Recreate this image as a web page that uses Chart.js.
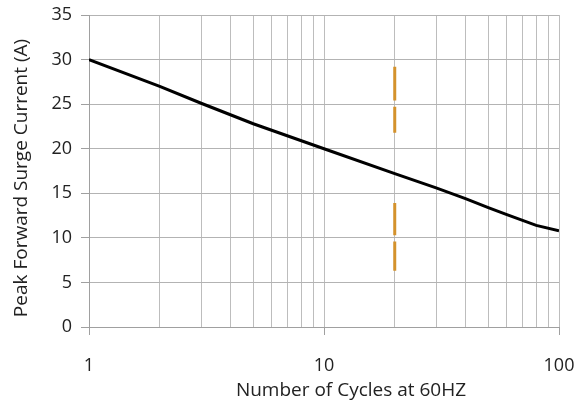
<!DOCTYPE html>
<html>
<head>
<meta charset="utf-8">
<script src="https://cdn.jsdelivr.net/npm/chart.js@4"></script>
<style>
  html, body { margin: 0; padding: 0; background: #fff; }
  #wrap { width: 586px; height: 408px; }
</style>
</head>
<body>
<div id="wrap"><canvas id="surge"></canvas></div>
<script>
// curve (cycles -> amps)
const cycles = [1, 2, 3, 5, 10, 20, 30, 40, 50, 60, 80, 100];
const amps = [30, 27, 25.1, 22.8, 20, 17.2, 15.6, 14.4, 13.4, 12.6, 11.4, 10.8];

// orange marker at 20 cycles, two broken bars
const markX = [20, 20, null, 20, 20, null, 20, 20, null, 20, 20];
const markY = [29.2, 25.4, null, 24.7, 21.8, null, 13.9, 10.3, null, 9.6, 6.3];

const xLabels = [1, 10, 100];
const yTicks = [0, 5, 10, 15, 20, 25, 30, 35];

const FONT = 'Open Sans, Liberation Sans, Arial';
const TEXT = '#222';

// axis titles sit a bit off-centre in the original, so they are drawn here
const axisTitles = {
    id: 'axisTitles',
    afterDraw(chart) {
        const c = chart.ctx;
        const a = chart.chartArea;
        c.save();
        c.fillStyle = TEXT;
        c.textAlign = 'center';
        c.textBaseline = 'middle';
        c.font = '19px ' + FONT;
        c.fillText('Number of Cycles at 60HZ', (a.left + a.right) / 2 + 27, 391);
        c.translate(22, (a.top + a.bottom) / 2 + 7);
        c.rotate(-Math.PI / 2);
        c.font = '19px ' + FONT;
        c.fillText('Peak Forward Surge Current (A)', 0, 0);
        c.restore();
    }
};

const ctx = document.getElementById('surge').getContext('2d');

new Chart(ctx, {
    type: 'line',
    data: {
        datasets: [{
            label: 'curve',
            data: cycles.map((c, i) => ({ x: c, y: amps[i] })),
            borderColor: '#000',
            borderWidth: 3,
            pointRadius: 0,
            tension: 0
        }, {
            label: 'mark',
            data: markX.map((c, i) => ({ x: c, y: markY[i] })),
            borderColor: '#d4922c',
            borderWidth: 3,
            pointRadius: 0,
            spanGaps: false
        }]
    },
    plugins: [axisTitles],
    options: {
        responsive: true,
        maintainAspectRatio: false,
        animation: false,
        layout: { padding: { top: 15, right: 27, left: 0, bottom: 0 } },
        plugins: { legend: { display: false }, tooltip: { enabled: false } },
        scales: {
            x: {
                type: 'logarithmic',
                min: 1,
                max: 100,
                afterFit: (axis) => {
                    axis.height = 81;
                    axis.paddingLeft = 0;
                    axis.paddingRight = 0;
                },
                grid: {
                    color: '#bdbdbd',
                    lineWidth: 1,
                    tickLength: 8,
                    tickColor: (c) => xLabels.includes(c.tick && c.tick.value) ? '#a0a0a0' : 'rgba(0,0,0,0)'
                },
                border: { color: '#a0a0a0' },
                ticks: {
                    autoSkip: false,
                    maxRotation: 0,
                    padding: 20,
                    color: TEXT,
                    font: { family: FONT, size: 18 },
                    callback: (v) => xLabels.includes(v) ? String(v) : ''
                },
                afterBuildTicks: (axis) => {
                    const t = [];
                    for (let d = 1; d < 100; d *= 10) {
                        for (let k = 1; k < 10; k++) t.push({ value: k * d });
                    }
                    t.push({ value: 100 });
                    axis.ticks = t;
                }
            },
            y: {
                min: 0,
                max: 35,
                afterFit: (axis) => {
                    axis.width = 89;
                    axis.paddingTop = 0;
                    axis.paddingBottom = 0;
                },
                afterBuildTicks: (axis) => { axis.ticks = yTicks.map(v => ({ value: v })); },
                grid: { color: '#b3b3b3', tickLength: 8, tickColor: '#a0a0a0' },
                border: { color: '#a0a0a0' },
                ticks: {
                    padding: 9,
                    color: TEXT,
                    font: { family: FONT, size: 18 }
                }
            }
        }
    }
});
</script>
</body>
</html>
